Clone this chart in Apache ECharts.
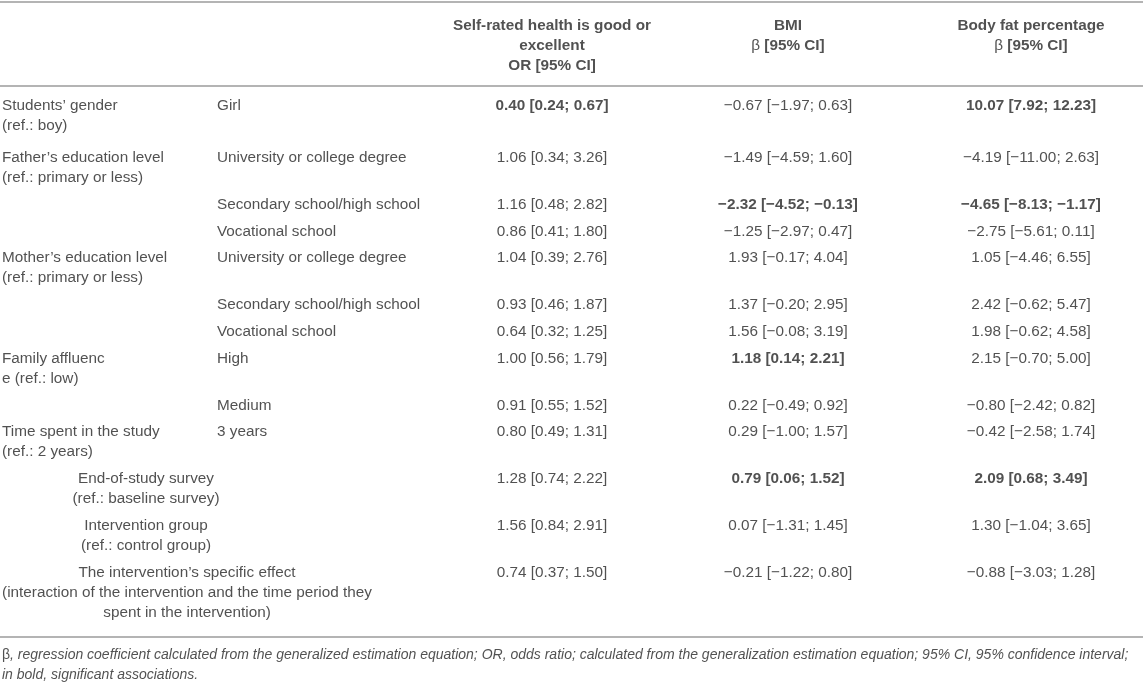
<!DOCTYPE html>
<html><head><meta charset="utf-8">
<script src="https://cdn.jsdelivr.net/npm/echarts@6/dist/echarts.min.js"></script>
<style>html,body{margin:0;padding:0;background:#fff}#c{width:1143px;height:686px}</style>
</head><body><div id="c"></div>
<script>
// ---- table content ----
const headers = [
  "Self-rated health is good or\nexcellent\nOR [95% CI]",
  "BMI\n{n|β} [95% CI]",
  "Body fat percentage\n{n|β} [95% CI]"
];
const variables = [
  "Students’ gender\n(ref.: boy)",
  "Father’s education level\n(ref.: primary or less)",
  "", "",
  "Mother’s education level\n(ref.: primary or less)",
  "", "",
  "Family affluenc\ne (ref.: low)",
  "",
  "Time spent in the study\n(ref.: 2 years)",
  "End-of-study survey\n(ref.: baseline survey)",
  "Intervention group\n(ref.: control group)",
  "The intervention’s specific effect\n(interaction of the intervention and the time period they\nspent in the intervention)"
];
const levels = [
  "Girl", "University or college degree", "Secondary school/high school", "Vocational school",
  "University or college degree", "Secondary school/high school", "Vocational school",
  "High", "Medium", "3 years", "", "", ""
];
const healthOR = [
  [0.40,0.24,0.67],[1.06,0.34,3.26],[1.16,0.48,2.82],[0.86,0.41,1.80],
  [1.04,0.39,2.76],[0.93,0.46,1.87],[0.64,0.32,1.25],[1.00,0.56,1.79],
  [0.91,0.55,1.52],[0.80,0.49,1.31],[1.28,0.74,2.22],[1.56,0.84,2.91],[0.74,0.37,1.50]
];
const bmiBeta = [
  [-0.67,-1.97,0.63],[-1.49,-4.59,1.60],[-2.32,-4.52,-0.13],[-1.25,-2.97,0.47],
  [1.93,-0.17,4.04],[1.37,-0.20,2.95],[1.56,-0.08,3.19],[1.18,0.14,2.21],
  [0.22,-0.49,0.92],[0.29,-1.00,1.57],[0.79,0.06,1.52],[0.07,-1.31,1.45],[-0.21,-1.22,0.80]
];
const fatBeta = [
  [10.07,7.92,12.23],[-4.19,-11.00,2.63],[-4.65,-8.13,-1.17],[-2.75,-5.61,0.11],
  [1.05,-4.46,6.55],[2.42,-0.62,5.47],[1.98,-0.62,4.58],[2.15,-0.70,5.00],
  [-0.80,-2.42,0.82],[-0.42,-2.58,1.74],[2.09,0.68,3.49],[1.30,-1.04,3.65],[-0.88,-3.03,1.28]
];
const boldHealth = [0];
const boldBmi = [2, 7, 10];
const boldFat = [0, 2, 10];
const mergedRows = [10, 11, 12];
const footnote = "{n|β}, regression coefficient calculated from the generalized estimation equation; OR, odds ratio; calculated from the generalization estimation equation; 95% CI, 95% confidence interval;\nin bold, significant associations.";

// ---- layout ----
const W = 1143, H = 686;
const FONT = 'Liberation Sans, Arial, sans-serif';
const FS = 15.3, LH = 20, PAD = 6.8, FIRST_EXTRA = 5;
const TXT = '#262626', RULE = '#b4b4b4';
const col1X = 2, col2X = 217, colC = [552, 788, 1031];
const mergedCX = {10: 146, 11: 146, 12: 187};
const headerTop = 16, bodyTop = 96;
const ruleTop = 2, ruleHead = 86;

const fmt = v => (v < 0 ? '\u2212' : '') + Math.abs(v).toFixed(2);
const cell = t => `${fmt(t[0])} [${fmt(t[1])}; ${fmt(t[2])}]`;
const nLines = s => s ? s.split('\n').length : 1;

const pts = [];
function add(x, y, text, align, extra) {
  pts.push({
    value: [x, y],
    label: Object.assign({
      show: true, position: [0, 0], formatter: text, align: align, verticalAlign: 'top',
      fontFamily: FONT, fontSize: FS, lineHeight: LH, color: TXT,
      rich: { n: { fontWeight: 'normal', fontSize: FS, lineHeight: LH, color: TXT, fontFamily: FONT } }
    }, extra || {})
  });
}
headers.forEach((h, j) => add(colC[j], headerTop, h, 'center', { fontWeight: 'bold' }));

let y = bodyTop;
variables.forEach((v, i) => {
  const n = Math.max(nLines(v), nLines(levels[i]));
  if (mergedRows.includes(i)) add(mergedCX[i], y, v, 'center');
  else {
    if (v) add(col1X, y, v, 'left');
    if (levels[i]) add(col2X, y, levels[i], 'left');
  }
  add(colC[0], y, cell(healthOR[i]), 'center', { fontWeight: boldHealth.includes(i) ? 'bold' : 'normal' });
  add(colC[1], y, cell(bmiBeta[i]), 'center', { fontWeight: boldBmi.includes(i) ? 'bold' : 'normal' });
  add(colC[2], y, cell(fatBeta[i]), 'center', { fontWeight: boldFat.includes(i) ? 'bold' : 'normal' });
  y += n * LH + PAD + (i === 0 ? FIRST_EXTRA : 0);
});
const ruleBottom = Math.round(y + 8);
const FN = 14;
add(col1X, ruleBottom + 8, footnote, 'left', { fontStyle: 'italic', fontSize: FN, lineHeight: 20,
  rich: { n: { fontStyle: 'normal', fontSize: FN, lineHeight: 20, color: TXT, fontFamily: FONT } } });

const chart = echarts.init(document.getElementById('c'), null, { renderer: 'canvas' });
chart.setOption({
  animation: false,
  backgroundColor: '#fff',
  grid: { left: 0, right: 0, top: 0, bottom: 0 },
  xAxis: { type: 'value', min: 0, max: W, show: false },
  yAxis: { type: 'value', min: 0, max: H, inverse: true, show: false },
  series: [{
    type: 'scatter', symbolSize: 0, silent: true, data: pts,
    markLine: {
      silent: true, symbol: 'none', animation: false,
      label: { show: false },
      lineStyle: { color: RULE, width: 2, type: 'solid' },
      data: [{ yAxis: ruleTop }, { yAxis: ruleHead }, { yAxis: ruleBottom }]
    }
  }]
});
</script></body></html>
